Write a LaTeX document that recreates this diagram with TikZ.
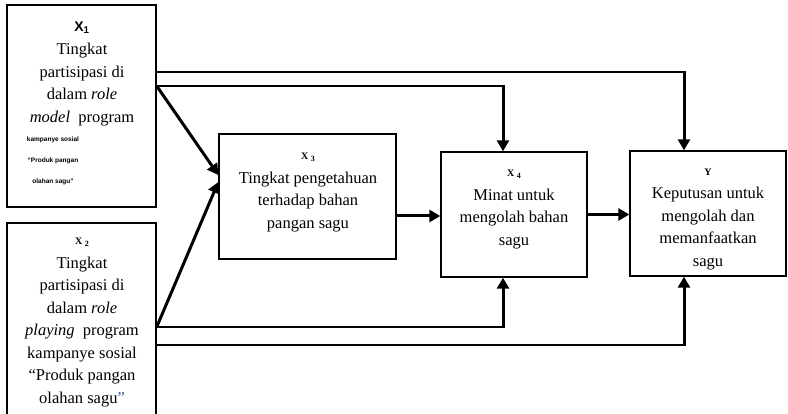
\documentclass[tikz,border=0pt]{standalone}
\usepackage{fontspec}
\setmainfont{Liberation Serif}
\setsansfont{Liberation Sans}
\usepackage{xcolor}
\usetikzlibrary{arrows.meta,positioning}
\definecolor{quoteblue}{RGB}{60,90,160}
\newcommand{\varlabel}[1]{{\bfseries\fontsize{10}{10}\selectfont X\ \raisebox{-1.5pt}{\fontsize{8}{8}\selectfont #1}}}

\begin{document}
\begin{tikzpicture}[x=1pt,y=-1pt,
    box/.style={draw,line width=1.4pt,inner sep=0pt},
    txt/.style={align=center,inner sep=0pt,font=\fontsize{16.5}{22.5}\selectfont},
    link/.style={line width=1.4pt},
    flow/.style={line width=3pt,-{Triangle[length=11pt,width=12pt]}}]
\useasboundingbox (0,0) rectangle (788,414);
\clip (0,0) rectangle (788,414);

% boxes
\node[box,minimum width=149pt,minimum height=202pt] (X1) at (81.5,106) {};
\node[box,minimum width=149pt,minimum height=193pt] (X2) at (81.5,319.5) {};
\node[box,minimum width=177pt,minimum height=125pt] (X3) at (307.5,196.5) {};
\node[box,minimum width=146pt,minimum height=125pt] (X4) at (514,214.5) {};
\node[box,minimum width=156pt,minimum height=125pt] (Y) at (708,213.5) {};

% texts
\node[txt] (X1txt) at (82,73.5) {{\sffamily\bfseries\fontsize{14}{14}\selectfont X\textsubscript{1}}\\[1pt]
    Tingkat\\partisipasi di\\dalam \textit{role}\\\textit{model}\ \ program};
\node[align=center,inner sep=0pt,font=\sffamily\bfseries\fontsize{6.5}{21}\selectfont] (X1note) at (53,161)
    {kampanye sosial\\“Produk pangan\\olahan sagu”};
\node[txt] (X2txt) at (82,322.5) {\varlabel{2}\\[1pt]
    Tingkat\\partisipasi di\\dalam \textit{role}\\\textit{playing}\ \ program\\kampanye sosial\\“Produk pangan\\olahan sagu\textcolor{quoteblue}{”}};
\node[txt] (X3txt) at (308,192.5) {\varlabel{3}\\[1pt]
    Tingkat pengetahuan\\terhadap bahan\\pangan sagu};
\node[txt] (X4txt) at (514,209.5) {\varlabel{4}\\[1pt]
    Minat untuk\\mengolah bahan\\sagu};
\node[txt] (Ytxt) at (708,219.5) {{\bfseries\fontsize{10}{10}\selectfont Y}\\[1pt]
    Keputusan untuk\\mengolah dan\\memanfaatkan\\sagu};

% routes
\coordinate (c1) at (684,72);
\coordinate (c2) at (503,86);
\coordinate (c3) at (503,327);
\coordinate (c4) at (684,345);
\draw[link] (X1.east |- c1) -- (c1);
\draw[flow] ([yshift=0.7pt]c1) -- (c1 |- Y.north);
\draw[link] (X1.east |- c2) -- (c2);
\draw[flow] ([yshift=0.7pt]c2) -- (c2 |- X4.north);
\draw[link] (X2.east |- c3) -- (c3);
\draw[flow] ([yshift=-0.7pt]c3) -- (c3 |- X4.south);
\draw[link] (X2.east |- c4) -- (c4);
\draw[flow] ([yshift=-0.7pt]c4) -- (c4 |- Y.south);

% into X3
\draw[flow] (X1.east |- c2) -- ([yshift=21.5pt]X3.west);
\draw[flow] (X2.east |- c3) -- ([yshift=14.5pt]X3.west);

% chain
\path ([yshift=-19.5pt]X3.east) coordinate (p34);
\draw[flow] (p34) -- (p34 -| X4.west);
\draw[flow] (X4.east) -- (X4.east -| Y.west);
\end{tikzpicture}
\end{document}
